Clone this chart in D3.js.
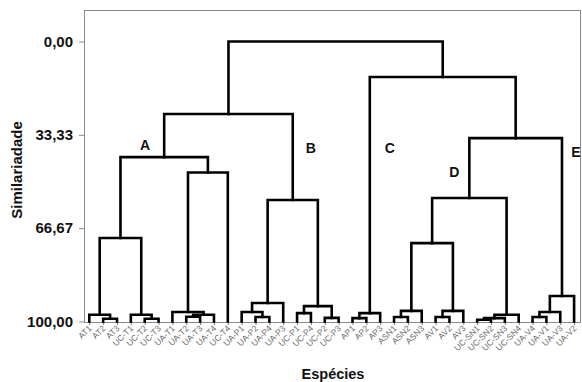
<!DOCTYPE html>
<html>
<head>
<meta charset="utf-8">
<script src="https://cdn.jsdelivr.net/npm/d3@7"></script>
<style>
  body { margin: 0; background: #fff; }
  svg { font-family: Arial, "Liberation Sans", sans-serif; display: block; }
</style>
</head>
<body>
<svg id="chart" width="582" height="382"></svg>
<script>
// leaves, left to right
var leaves = ["AT1","AT2","AT3","UC-T1","UC-T2","UC-T3","UA-T1","UA-T2","UA-T3","UA-T4","UC-T4",
  "UA-P1","UA-P2","UA-P4","UA-P3","UC-P1","UC-P4","UC-P2","UC-P3",
  "AP1","AP2","AP3","ASN1","ASN2","ASN3","AV1","AV2","AV3",
  "UC-SN1","UC-SN2","UC-SN3","UC-SN4","UA-V4","UA-V1","UA-V3","UA-V2"];

// merges: [child a, child b, similarity]; index < 36 = leaf, else 36 + merge number
var merges = [
  [1, 2, 99.0], [0, 36, 97.6], [4, 5, 99.0], [3, 38, 97.6], [37, 39, 70.2],
  [7, 8, 98.3], [41, 9, 97.6], [6, 42, 96.6], [43, 10, 46.8], [40, 44, 41.3],
  [12, 13, 98.4], [11, 46, 96.6], [47, 14, 93.4], [15, 16, 97.0], [17, 18, 98.7],
  [49, 50, 94.5], [48, 51, 56.6], [45, 52, 25.9], [19, 20, 98.8], [54, 21, 97.0],
  [22, 23, 98.4], [56, 24, 96.2], [25, 26, 98.4], [58, 27, 96.2], [57, 59, 72.0],
  [28, 29, 99.4], [61, 30, 98.8], [62, 31, 97.6], [60, 63, 55.9], [32, 33, 98.4],
  [65, 34, 96.6], [66, 35, 90.9], [64, 67, 34.5], [55, 68, 12.7], [53, 69, 0]
];

var yTicks = [0, 33.33, 66.67, 100];
var yTickLabels = ["0,00", "33,33", "66,67", "100,00"];

var clusterNames = ["A", "B", "C", "D", "E"];
var clusterNodes = [45, 52, 55, 64, 67];

var svg = d3.select("#chart");
var m = {left: 84, right: 581, top: 10, bottom: 322};

var x = d3.scalePoint().domain(leaves).range([89.3, 574.1]);
var y = d3.scaleLinear().domain([0, 100]).range([41.5, 321.5]);

// node positions + parents
var nx = leaves.map(function(d) { return x(d); });
var ny = leaves.map(function() { return y(100); });
var parent = [];
merges.forEach(function(mg, k) {
  nx.push((nx[mg[0]] + nx[mg[1]]) / 2);
  ny.push(y(mg[2]));
  parent[mg[0]] = 36 + k;
  parent[mg[1]] = 36 + k;
});

// frame
svg.append("rect")
  .attr("x", m.left + 0.5).attr("y", m.top + 0.5)
  .attr("width", m.right - m.left - 1).attr("height", m.bottom - m.top)
  .attr("fill", "none").attr("stroke", "#8a8a8a").attr("stroke-width", 1);

// y axis
var yAxis = svg.append("g")
  .attr("transform", "translate(" + m.left + ",0)")
  .call(d3.axisLeft(y).tickValues(yTicks).tickSize(5).tickPadding(6)
    .tickFormat(function(d, i) { return yTickLabels[i]; }));
yAxis.select(".domain").remove();
yAxis.selectAll("line").attr("stroke", "#8a8a8a");
yAxis.selectAll("text")
  .attr("fill", "#111").style("font-size", "15px").style("font-weight", "bold")
  .style("font-family", "Arial, 'Liberation Sans', sans-serif");

// leaf ticks and labels
var xAxis = svg.append("g")
  .attr("transform", "translate(0," + m.bottom + ")")
  .call(d3.axisBottom(x).tickSize(3).tickFormat(""));
xAxis.select(".domain").remove();
xAxis.selectAll("line").attr("stroke", "#777");

svg.append("g").selectAll("text")
  .data(leaves)
  .enter()
  .append("text")
    .attr("transform", function(d) { return "translate(" + (x(d) + 3) + "," + (m.bottom + 7) + ") rotate(-45)"; })
    .attr("text-anchor", "end")
    .attr("fill", "#6a6a6a")
    .style("font-size", "8.5px")
    .text(function(d) { return d; });

// dendrogram links
svg.append("g").selectAll("path")
  .data(merges)
  .enter()
  .append("path")
    .attr("d", function(mg) {
      var a = mg[0], b = mg[1], ym = y(mg[2]);
      return "M" + nx[a] + "," + ny[a] + "V" + ym + "H" + nx[b] + "V" + ny[b];
    })
    .attr("fill", "none")
    .attr("stroke", "#000")
    .attr("stroke-width", 2.6)
    .attr("stroke-linecap", "square");

// cluster letters, placed beside their branch below the parent join
var labelOffset = [[-19, 36], [18, 39], [20, 76], [-15, 39], [14, 19]];
svg.append("g").selectAll("text")
  .data(clusterNames)
  .enter()
  .append("text")
    .attr("x", function(d, i) { return nx[clusterNodes[i]] + labelOffset[i][0]; })
    .attr("y", function(d, i) { return ny[parent[clusterNodes[i]]] + labelOffset[i][1]; })
    .attr("text-anchor", "middle")
    .style("font-size", "14px").style("font-weight", "bold")
    .attr("fill", "#111")
    .text(function(d) { return d; });

// axis titles
svg.append("text")
  .attr("x", 333).attr("y", 379)
  .attr("text-anchor", "middle")
  .style("font-size", "14.5px").style("font-weight", "bold")
  .attr("fill", "#111")
  .text("Espécies");

svg.append("text")
  .attr("transform", "translate(22,170) rotate(-90)")
  .attr("text-anchor", "middle")
  .style("font-size", "15px").style("font-weight", "bold")
  .attr("fill", "#111")
  .text("Similariadade");
</script>
</body>
</html>
